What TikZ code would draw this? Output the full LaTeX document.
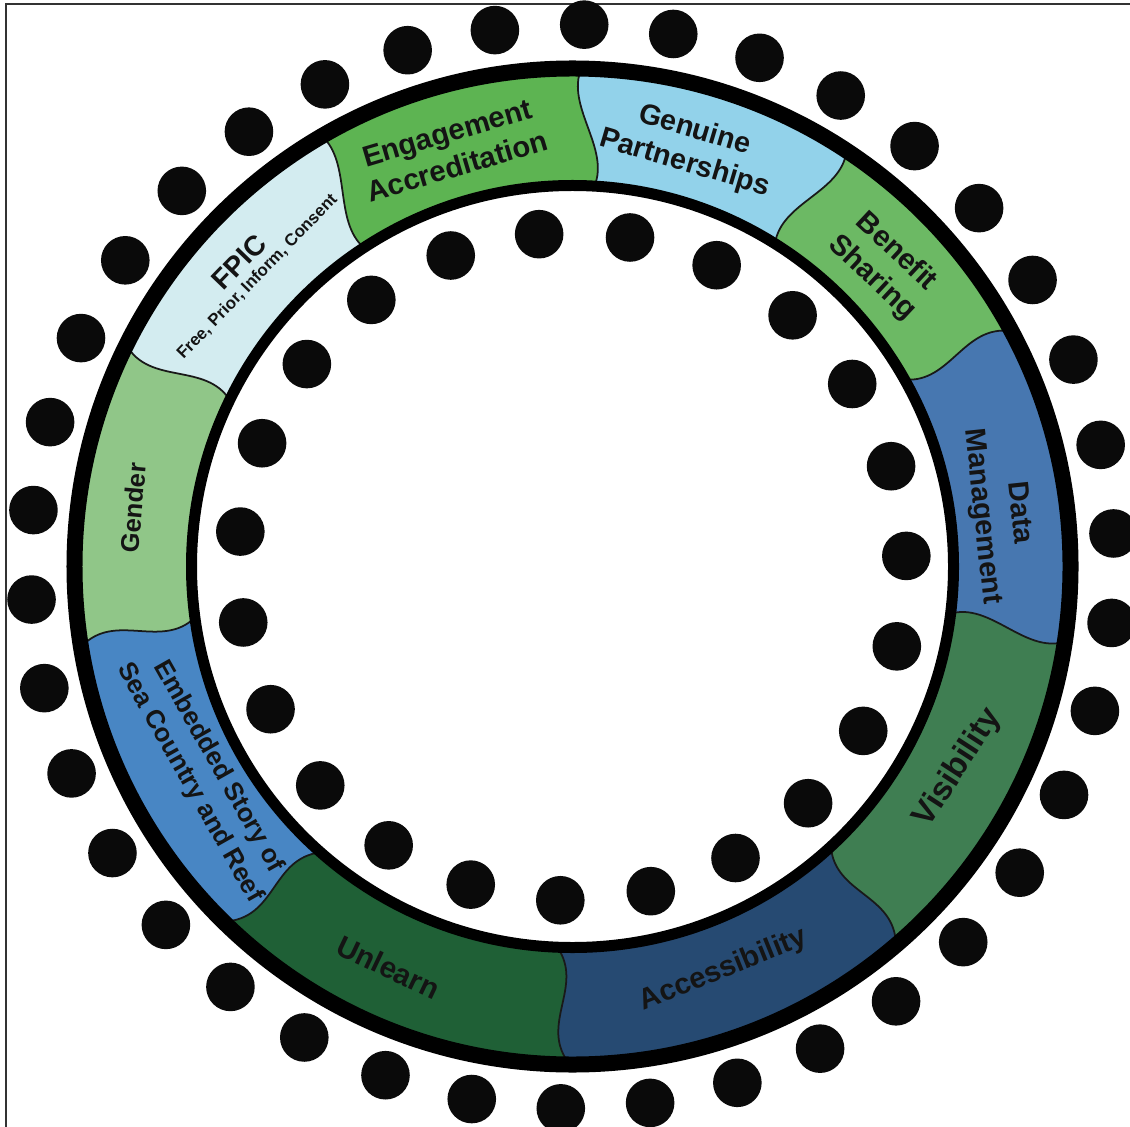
\documentclass[tikz,border=0pt]{standalone}
\usepackage{fontspec}
\setmainfont{Liberation Sans}

\definecolor{engage}{HTML}{5DB452}
\definecolor{genuine}{HTML}{92D2EA}
\definecolor{benefit}{HTML}{6CB964}
\definecolor{datamg}{HTML}{4777B0}
\definecolor{visib}{HTML}{3F7E52}
\definecolor{access}{HTML}{264A72}
\definecolor{unlearn}{HTML}{1F6036}
\definecolor{embed}{HTML}{4886C4}
\definecolor{gender}{HTML}{90C688}
\definecolor{fpic}{HTML}{D3ECF0}

\newcommand{\labfont}[2]{\bfseries\fontsize{#1}{#2}\selectfont}

\begin{document}
\begin{tikzpicture}[
  seglabel/.style={align=center, inner sep=0pt, text=black!92},
  blob/.style={fill=black!96},
  seam/.style={draw=black!90, line width=0.5pt},
]
\useasboundingbox (-5.725,-5.595) rectangle (5.575,5.665);
\fill[white] (-5.725,-5.595) rectangle (5.575,5.665);
% frame (only left and top edges are inside the picture)
\draw[black!80, line width=0.6pt] (-5.665,-6) |- (6,5.625);

% coloured band, one piece per theme
\foreach \col/\ao/\ai/\aw/\bo/\bi/\bw in {
  visib/-49.5/-47.3/3/-8.7/-7.1/-3,
  datamg/-8.7/-7.1/-3/28.2/29.4/3,
  benefit/28.2/29.4/3/56.6/57.9/-3,
  genuine/56.6/57.9/-3/89/86.7/3,
  engage/89/86.7/3/120.2/123.2/-3,
  fpic/120.2/123.2/-3/153.6/154.1/3,
  gender/153.6/154.1/3/189.3/187.7/-3,
  embed/189.3/187.7/-3/225.5/228.6/3,
  unlearn/225.5/228.6/3/269.7/267.7/-3,
  access/269.7/267.7/-3/310.5/312.7/3}
  \fill[\col] (\ao:4.98) arc[start angle=\ao, end angle=\bo, radius=4.98]
    .. controls ({(\bo+\bi)/2+\bw}:4.6) and ({(\bo+\bi)/2-\bw}:4.2) .. (\bi:3.81)
    arc[start angle=\bi, end angle=\ai, radius=3.81]
    .. controls ({(\ao+\ai)/2-\aw}:4.2) and ({(\ao+\ai)/2+\aw}:4.6) .. (\ao:4.98) -- cycle;

% wavy seams between the pieces
\foreach \o/\i/\w in {-49.5/-47.3/3, -8.7/-7.1/-3, 28.2/29.4/3, 56.6/57.9/-3, 89/86.7/3,
    120.2/123.2/-3, 153.6/154.1/3, 189.3/187.7/-3, 225.5/228.6/3, 269.7/267.7/-3}
  \draw[seam] (\o:4.98) .. controls ({(\o+\i)/2+\w}:4.6) and ({(\o+\i)/2-\w}:4.2) .. (\i:3.81);

% black rims
\draw[line width=0.16cm] (0,0) circle (4.98);
\draw[line width=0.11cm] (0,0) circle (3.81);

% dots outside and inside the ring
\foreach \k in {0,...,37}
  \fill[blob] ({88.76+\k*360/38}:5.42) circle (0.243);
\foreach \k in {0,...,22}
  \fill[blob] ({1.82+\k*360/23}:3.34) circle (0.243);

% labels
\node[seglabel, rotate=16.5, font=\labfont{8.3}{10}] (engage) at (106.1:4.34) {Engagement\\Accreditation};
\node[seglabel, rotate=-16.5, font=\labfont{8.2}{9.8}] (genuine) at (74.4:4.356) {Genuine\\Partnerships};
\node[seglabel, rotate=-43, font=\labfont{8.3}{10}] (benefit) at (44.06:4.335) {Benefit\\Sharing};
\node[seglabel, rotate=-84, font=\labfont{8.2}{10.5}] (datamg) at (6.9:4.306) {Data\\Management};
\node[seglabel, rotate=57, font=\labfont{9.3}{11}] (visib) at (-27.6:4.35) {Visibility};
\node[seglabel, rotate=22, font=\labfont{8.3}{10}] (access) at (-69.5:4.307) {Accessibility};
\node[seglabel, rotate=-25.5, font=\labfont{8.4}{10}] (unlearn) at (245.3:4.41) {Unlearn};
\node[seglabel, rotate=-60.5, font=\labfont{7.4}{9.4}] (embed) at (209.5:4.234) {Embedded Story of\\Sea Country and Reef};
\node[seglabel, rotate=85, font=\labfont{7.3}{9}] (gender) at (172.4:4.43) {Gender};
\node[seglabel, rotate=46, font=\labfont{8}{9}] (fpic) at (137.6:4.516) {FPIC};
\node[seglabel, rotate=46, font=\labfont{4.8}{6}] (fpicsub) at (137.4:4.282) {Free, Prior, Inform, Consent};
\end{tikzpicture}
\end{document}
